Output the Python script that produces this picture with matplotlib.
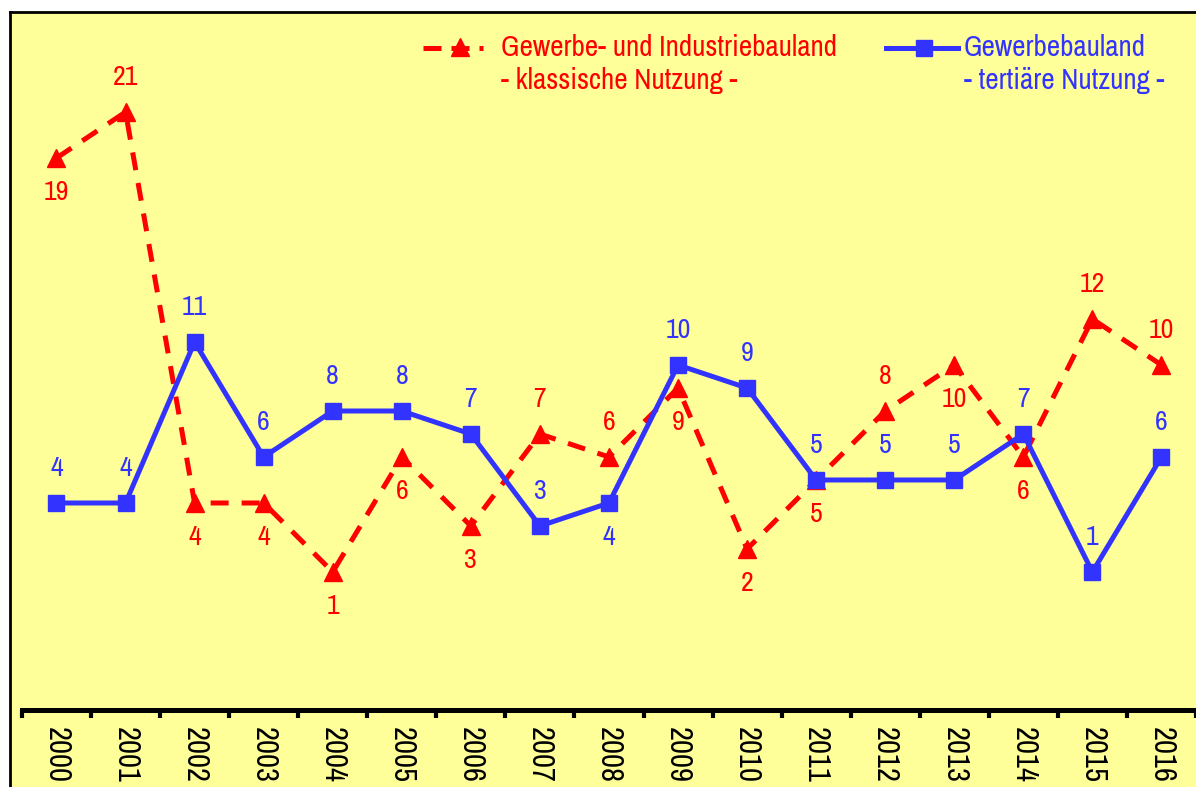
import matplotlib
matplotlib.use("Agg")
import matplotlib.pyplot as plt

years = [str(y) for y in range(2000, 2017)]
klassisch = [19, 21, 4, 4, 1, 6, 3, 7, 6, 9, 2, 5, 8, 10, 6, 12, 10]
tertiaer = [4, 4, 11, 6, 8, 8, 7, 3, 4, 10, 9, 5, 5, 5, 7, 1, 6]
# where the value label sits: 1 above the marker, -1 below
klassisch_pos = [-1, 1, -1, -1, -1, -1, -1, 1, 1, -1, -1, -1, 1, -1, -1, 1, 1]
tertiaer_pos = [1, 1, 1, 1, 1, 1, 1, 1, -1, 1, 1, 1, 1, 1, 1, 1, 1]

red = '#FF0000'
blue = '#3333FF'
bg = '#FFFF99'
plt.rcParams['font.family'] = ['Archivo Narrow', 'Liberation Sans Narrow', 'DejaVu Sans']

W, H = 1196, 787
fig = plt.figure(figsize=(W / 100, H / 100), dpi=100)
fig.patch.set_facecolor('white')
ax = fig.add_axes([10 / W, 0, 1 - 10 / W, (H - 12) / H])
ax.set_facecolor(bg)

x = list(range(len(years)))
ax.plot(x, klassisch, color=red, lw=3.6, dashes=(3.6, 2.6),
        marker='^', ms=13, mec=red, mfc=red, zorder=3)
ax.plot(x, tertiaer, color=blue, lw=3.6,
        marker='s', ms=11, mec=blue, mfc=blue, zorder=4)

for xi, v, p in zip(x, klassisch, klassisch_pos):
    ax.annotate(str(v), (xi, v), xytext=(0, 25 * p), textcoords='offset points',
                ha='center', va='center', color=red, fontsize=20)
for xi, v, p in zip(x, tertiaer, tertiaer_pos):
    ax.annotate(str(v), (xi, v), xytext=(0, 25 * p), textcoords='offset points',
                ha='center', va='center', color=blue, fontsize=20)

ax.set_xlim(-0.673, 16.46)
ax.set_ylim(-8.35, 25.35)
ax.set_yticks([])

ax.spines['right'].set_visible(False)
ax.spines['left'].set_linewidth(2)
ax.spines['top'].set_linewidth(2)
ax.spines['bottom'].set_position(('data', -5))
ax.spines['bottom'].set_bounds(-0.5, 16.5)
ax.spines['bottom'].set_linewidth(3.6)

ax.set_xticks(x)
ax.set_xticklabels(years, rotation=270, fontsize=22)
ax.tick_params(axis='x', which='major', length=0, pad=12)
ax.set_xticks([i - 0.5 for i in range(len(years) + 1)], minor=True)
ax.tick_params(axis='x', which='minor', length=6, width=3, direction='out')

# legend drawn by hand so the handle sits on the first text line
def fx(px):
    return (px - 10) / (W - 10)

def fy(py):
    return (H - py) / (H - 12)

ax.plot([fx(423), fx(483)], [fy(48), fy(48)], transform=ax.transAxes,
        color=red, lw=3.6, dashes=(3.6, 2.0), clip_on=False)
ax.plot([fx(460)], [fy(47)], transform=ax.transAxes, marker='^', ms=13,
        color=red, clip_on=False)
ax.text(fx(501), fy(48), 'Gewerbe- und Industriebauland', transform=ax.transAxes,
        color=red, fontsize=21, va='center', ha='left')
ax.text(fx(501), fy(80), '- klassische Nutzung -', transform=ax.transAxes,
        color=red, fontsize=21, va='center', ha='left')

ax.plot([fx(886), fx(958)], [fy(48), fy(48)], transform=ax.transAxes,
        color=blue, lw=3.6, clip_on=False)
ax.plot([fx(924)], [fy(48)], transform=ax.transAxes, marker='s', ms=11,
        color=blue, clip_on=False)
ax.text(fx(964), fy(48), 'Gewerbebauland', transform=ax.transAxes,
        color=blue, fontsize=21, va='center', ha='left')
ax.text(fx(964), fy(80), '- tertiäre Nutzung -', transform=ax.transAxes,
        color=blue, fontsize=21, va='center', ha='left')

fig.savefig('out.png', dpi=100, facecolor=fig.get_facecolor())
